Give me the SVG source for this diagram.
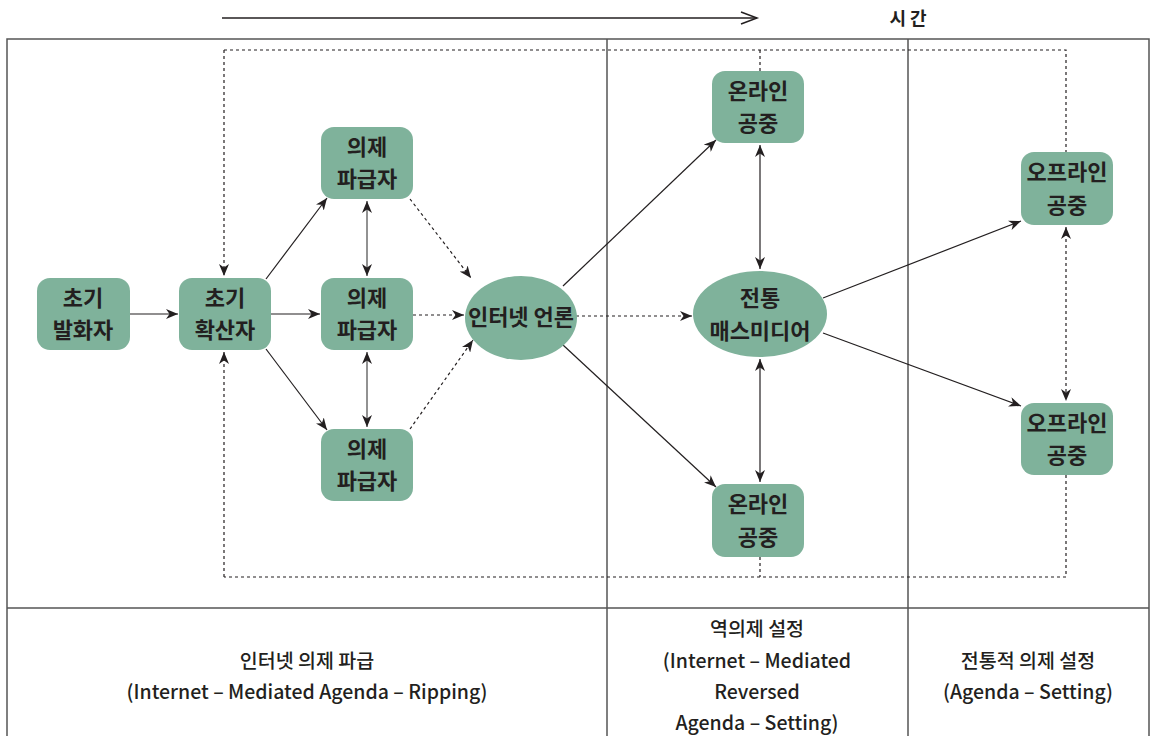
<svg xmlns="http://www.w3.org/2000/svg" width="1153" height="736" viewBox="0 0 1153 736">
<style>
.node{fill:#7fb29b;}
.nt{font-family:"Noto Sans CJK KR","Liberation Sans",sans-serif;font-weight:bold;font-size:22px;fill:#231f20;text-anchor:middle;}
.bt{font-family:"Noto Sans CJK KR","Liberation Sans",sans-serif;font-weight:500;font-size:19.5px;fill:#231f20;text-anchor:middle;}
.frame{stroke:#555;stroke-width:1.5;fill:none;}
.solid{stroke:#231f20;stroke-width:1.2;fill:none;}
.grey{stroke:#777;stroke-width:1.6;fill:none;}
.dash{stroke:#231f20;stroke-width:1.2;fill:none;stroke-dasharray:3,3;}
</style>
<defs>
<marker id="ah" viewBox="0 0 12 10" refX="12" refY="5" markerWidth="12" markerHeight="10" markerUnits="userSpaceOnUse" orient="auto-start-reverse">
<path d="M0,0 L12,5 L0,10 L3.5,5 z" fill="#231f20"/>
</marker>
</defs>
<rect width="1153" height="736" fill="#fff"/>
<g id="frame">
<line class="solid" x1="222" y1="18" x2="757" y2="18" style="stroke-width:1.5"/>
<polyline class="solid" points="741,12 757,18 741,24" style="stroke-width:1.5"/>
<text x="908" y="25" class="nt" style="font-size:18px">시 간</text>
<polyline class="frame" points="7,736 7,39 1149,39 1149,736"/>
<line class="frame" x1="7" y1="608" x2="1149" y2="608"/>
<line class="frame" x1="607" y1="39" x2="607" y2="736"/>
<line class="frame" x1="908" y1="39" x2="908" y2="736"/>
<path class="dash" d="M224,50 H1066 V152 M1066,475 V577 H224"/>
<line class="dash" x1="760" y1="50" x2="760" y2="71"/>
<line class="dash" x1="760" y1="557" x2="760" y2="577"/>
</g>
<g id="connectors">
<line class="dash" x1="224" y1="50" x2="224" y2="276" marker-end="url(#ah)"/>
<line class="dash" x1="224" y1="577" x2="224" y2="352" marker-end="url(#ah)"/>
<line class="solid" x1="130" y1="314" x2="178" y2="314" marker-end="url(#ah)"/>
<line class="solid" x1="266" y1="279" x2="327" y2="198" marker-end="url(#ah)"/>
<line class="solid" x1="271" y1="314" x2="320" y2="314" marker-end="url(#ah)"/>
<line class="solid" x1="266" y1="349" x2="327" y2="430" marker-end="url(#ah)"/>
<line class="grey" x1="367" y1="201" x2="367" y2="276" marker-start="url(#ah)" marker-end="url(#ah)"/>
<line class="grey" x1="367" y1="352" x2="367" y2="427" marker-start="url(#ah)" marker-end="url(#ah)"/>
<line class="dash" x1="410" y1="199" x2="471" y2="278" marker-end="url(#ah)"/>
<line class="dash" x1="413" y1="315" x2="464" y2="315" marker-end="url(#ah)"/>
<line class="dash" x1="410" y1="429" x2="473" y2="340" marker-end="url(#ah)"/>
<line class="solid" x1="563" y1="286" x2="716" y2="140" marker-end="url(#ah)"/>
<line class="solid" x1="563" y1="345" x2="716" y2="487" marker-end="url(#ah)"/>
<line class="dash" x1="576" y1="316" x2="692" y2="316" marker-end="url(#ah)"/>
<line class="solid" x1="760" y1="145" x2="760" y2="269" marker-start="url(#ah)" marker-end="url(#ah)"/>
<line class="solid" x1="760" y1="359" x2="760" y2="482" marker-start="url(#ah)" marker-end="url(#ah)"/>
<line class="solid" x1="823" y1="298" x2="1021" y2="221" marker-end="url(#ah)"/>
<line class="solid" x1="823" y1="333" x2="1021" y2="406" marker-end="url(#ah)"/>
<line class="dash" x1="1066" y1="227" x2="1066" y2="401" marker-start="url(#ah)" marker-end="url(#ah)"/>
</g>
<g id="n-initial-speaker"><rect class="node" x="37" y="278" width="93" height="72" rx="13"/><text class="nt" x="83" y="306">초기</text><text class="nt" x="83" y="338">발화자</text></g>
<g id="n-initial-spreader"><rect class="node" x="179" y="278" width="92" height="72" rx="13"/><text class="nt" x="225" y="306">초기</text><text class="nt" x="225" y="338">확산자</text></g>
<g id="n-agenda-top"><rect class="node" x="321" y="127" width="92" height="72" rx="13"/><text class="nt" x="367" y="155">의제</text><text class="nt" x="367" y="187">파급자</text></g>
<g id="n-agenda-mid"><rect class="node" x="321" y="278" width="92" height="72" rx="13"/><text class="nt" x="367" y="306">의제</text><text class="nt" x="367" y="338">파급자</text></g>
<g id="n-agenda-bot"><rect class="node" x="321" y="429" width="92" height="72" rx="13"/><text class="nt" x="367" y="457">의제</text><text class="nt" x="367" y="489">파급자</text></g>
<g id="n-internet-press"><ellipse class="node" cx="521" cy="318" rx="56" ry="42"/><text class="nt" x="521" y="325">인터넷 언론</text></g>
<g id="n-online-top"><rect class="node" x="712" y="71" width="92" height="72" rx="13"/><text class="nt" x="758" y="99">온라인</text><text class="nt" x="758" y="131">공중</text></g>
<g id="n-mass-media"><ellipse class="node" cx="760" cy="314" rx="67" ry="43"/><text class="nt" x="760" y="306">전통</text><text class="nt" x="760" y="339">매스미디어</text></g>
<g id="n-online-bot"><rect class="node" x="712" y="484" width="92" height="73" rx="13"/><text class="nt" x="758" y="512">온라인</text><text class="nt" x="758" y="545">공중</text></g>
<g id="n-offline-top"><rect class="node" x="1021" y="152" width="92" height="73" rx="13"/><text class="nt" x="1067" y="180">오프라인</text><text class="nt" x="1067" y="213">공중</text></g>
<g id="n-offline-bot"><rect class="node" x="1021" y="403" width="92" height="72" rx="13"/><text class="nt" x="1067" y="431">오프라인</text><text class="nt" x="1067" y="463">공중</text></g>
<g id="labels">
<text class="bt" x="307" y="668">인터넷 의제 파급</text>
<text class="bt" x="307" y="699">(Internet – Mediated Agenda – Ripping)</text>
<text class="bt" x="757" y="636">역의제 설정</text>
<text class="bt" x="757" y="668">(Internet – Mediated</text>
<text class="bt" x="757" y="699">Reversed</text>
<text class="bt" x="757" y="730">Agenda – Setting)</text>
<text class="bt" x="1028" y="668">전통적 의제 설정</text>
<text class="bt" x="1028" y="699">(Agenda – Setting)</text>
</g>
</svg>
